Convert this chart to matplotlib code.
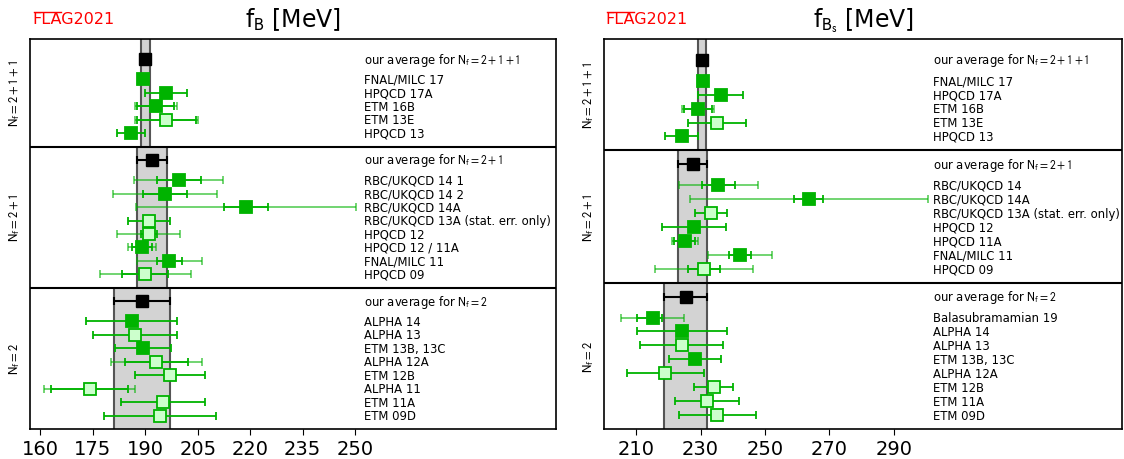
import numpy as np
import matplotlib
matplotlib.use("Agg")
import matplotlib.pyplot as plt
from matplotlib.transforms import blended_transform_factory

plt.rcParams['mathtext.fontset'] = 'stixsans'

GREEN = '#00b300'
LIGHT = '#ccffcc'

# ---- f_B data (labels listed top to bottom inside each block) ----
fb_4_labels = ["FNAL/MILC 17", "HPQCD 17A", "ETM 16B", "ETM 13E", "HPQCD 13"]
fb_4_val = [189.4, 196.0, 193.0, 196.0, 186.0]
fb_4_stat = [None, None, 5.3, 8.4, None]
fb_4_tot = [1.4, 6.0, 6.0, 9.0, 4.0]
fb_4_filled = [True, True, True, False, True]
fb_4_avg = (190.0, 1.3)

fb_3_labels = ["RBC/UKQCD 14 1", "RBC/UKQCD 14 2", "RBC/UKQCD 14A",
               "RBC/UKQCD 13A (stat. err. only)", "HPQCD 12", "HPQCD 12 / 11A",
               "FNAL/MILC 11", "HPQCD 09"]
fb_3_val = [199.5, 195.6, 218.8, 191.0, 191.0, 189.0, 196.9, 190.0]
fb_3_stat = [6.3, 6.3, 6.4, None, 2.2, 2.8, 3.5, 6.6]
fb_3_tot = [12.7, 14.8, 31.4, 6.0, 9.0, 4.0, 9.2, 13.0]
fb_3_filled = [True, True, True, False, False, True, True, False]
fb_3_avg = (192.0, 4.3)

fb_2_labels = ["ALPHA 14", "ALPHA 13", "ETM 13B, 13C", "ALPHA 12A", "ETM 12B",
               "ALPHA 11", "ETM 11A", "ETM 09D"]
fb_2_val = [186.1, 187.0, 189.2, 193.1, 197.1, 174.1, 195.1, 194.1]
fb_2_stat = [None, None, None, 9.0, None, 11.0, None, None]
fb_2_tot = [13.0, 12.1, 8.0, 13.0, 10.0, 13.0, 12.0, 16.0]
fb_2_filled = [True, False, True, False, False, False, False, False]
fb_2_avg = (189.0, 8.0)

# ---- f_Bs data ----
fbs_4_labels = ["FNAL/MILC 17", "HPQCD 17A", "ETM 16B", "ETM 13E", "HPQCD 13"]
fbs_4_val = [230.7, 236.2, 229.2, 235.2, 224.1]
fbs_4_stat = [None, None, 4.4, None, None]
fbs_4_tot = [1.2, 7.0, 5.0, 9.0, 5.0]
fbs_4_filled = [True, True, True, False, True]
fbs_4_avg = (230.5, 1.3)

fbs_3_labels = ["RBC/UKQCD 14", "RBC/UKQCD 14A", "RBC/UKQCD 13A (stat. err. only)",
                "HPQCD 12", "HPQCD 11A", "FNAL/MILC 11", "HPQCD 09"]
fbs_3_val = [235.5, 263.6, 233.2, 228.0, 225.1, 242.2, 231.0]
fbs_3_stat = [5.2, 4.6, None, None, 3.3, 3.4, 5.0]
fbs_3_tot = [12.2, 37.0, 5.0, 10.0, 4.0, 9.9, 15.2]
fbs_3_filled = [True, True, False, True, True, True, False]
fbs_3_avg = (227.6, 4.5)

fbs_2_labels = ["Balasubramamian 19", "ALPHA 14", "ALPHA 13", "ETM 13B, 13C",
                "ALPHA 12A", "ETM 12B", "ETM 11A", "ETM 09D"]
fbs_2_val = [215.1, 224.1, 224.1, 228.2, 219.1, 234.1, 232.0, 235.2]
fbs_2_stat = [(5.0, 3.0), None, None, None, None, None, None, None]
fbs_2_tot = [9.9, 14.0, 13.0, 8.0, 12.0, 6.0, 10.0, 12.0]
fbs_2_filled = [True, True, False, True, False, False, False, False]
fbs_2_avg = (225.4, 6.7)

nf_names = ["2", "2+1", "2+1+1"]
fb_ticks = [160, 175, 190, 205, 220, 235, 250]
fbs_ticks = [210, 230, 250, 270, 290]

LABEL_FS = 8.4


def draw_point(ax, x, y, stat, tot, filled):
    if stat is not None:
        lo, hi = stat if isinstance(stat, tuple) else (stat, stat)
        ax.errorbar([x], [y], xerr=[[tot], [tot]], fmt='none', ecolor=GREEN,
                    alpha=0.6, elinewidth=1.3, capsize=3, capthick=1.3, zorder=3)
        ax.errorbar([x], [y], xerr=[[lo], [hi]], fmt='none', ecolor=GREEN,
                    elinewidth=1.3, capsize=3, capthick=1.3, zorder=4)
    else:
        ax.errorbar([x], [y], xerr=[[tot], [tot]], fmt='none', ecolor=GREEN,
                    elinewidth=1.3, capsize=3, capthick=1.3, zorder=4)
    ax.plot([x], [y], 's', ms=8, mfc=GREEN if filled else LIGHT,
            mec=GREEN, mew=1.3, zorder=5)


def draw_panel(ax, blocks, xlim, ticks):
    tr = blended_transform_factory(ax.transAxes, ax.transData)
    y0 = 0.0
    for k, (labels, vals, stats, tots, filled, avg) in enumerate(blocks):
        n = len(labels)
        ys = y0 + np.arange(n, 0, -1)
        avg_y = y0 + n + 1.5
        top = avg_y + (1.5 if k == len(blocks) - 1 else 1.0)
        m, e = avg
        ax.fill_between([m - e, m + e], y0, top, color='#d3d3d3', zorder=1, lw=0)
        ax.vlines([m - e, m + e], y0, top, color='#555555', lw=1.5, zorder=2)
        ax.errorbar([m], [avg_y], xerr=[[e], [e]], fmt='s', color='black', ms=8,
                    elinewidth=1.5, capsize=3, capthick=1.5, zorder=5)
        ax.text(0.635, avg_y, r'our average for $\mathrm{N_f=%s}$' % nf_names[k],
                transform=tr, va='center', ha='left', fontsize=LABEL_FS)
        for lab, v, s, t, f, y in zip(labels, vals, stats, tots, filled, ys):
            draw_point(ax, v, y, s, t, f)
            ax.text(0.635, y, lab, transform=tr, va='center', ha='left',
                    fontsize=LABEL_FS)
        ax.text(-0.03, (y0 + top) / 2, r'$\mathrm{N_f=%s}$' % nf_names[k],
                transform=tr, rotation=90, va='center', ha='center', fontsize=9)
        if k < len(blocks) - 1:
            ax.axhline(top, color='black', lw=1.5, zorder=6)
        y0 = top
    ax.set_ylim(0, y0)
    ax.set_xlim(*xlim)
    ax.set_xticks(ticks)
    ax.set_yticks([])
    ax.tick_params(axis='x', labelsize=14, length=4)
    for sp in ax.spines.values():
        sp.set_linewidth(1.2)


def flag_logo(fig, x, y):
    # red FLAG2021 mark with a bar over "FLA"
    r = fig.canvas.get_renderer()
    inv = fig.transFigure.inverted()
    tmp = fig.text(x, y, 'FLA', fontsize=11.5, ha='left', va='center')
    bb = tmp.get_window_extent(renderer=r).transformed(inv)
    tmp.remove()
    t = fig.text(x, y, 'FLAG2021', color='red', fontsize=11.5, ha='left', va='center')
    full = t.get_window_extent(renderer=r).transformed(inv)
    ytop = full.y1 - 0.003
    fig.add_artist(plt.Line2D([bb.x0 + 0.001, bb.x1 - 0.001], [ytop, ytop],
                              transform=fig.transFigure, color='red', lw=1.0))


fig = plt.figure(figsize=(11.24, 4.6), dpi=100)
ax1 = fig.add_axes([0.0267, 0.0652, 0.468, 0.848])
ax2 = fig.add_axes([0.5374, 0.0652, 0.4609, 0.848])

draw_panel(ax1, [
    (fb_2_labels, fb_2_val, fb_2_stat, fb_2_tot, fb_2_filled, fb_2_avg),
    (fb_3_labels, fb_3_val, fb_3_stat, fb_3_tot, fb_3_filled, fb_3_avg),
    (fb_4_labels, fb_4_val, fb_4_stat, fb_4_tot, fb_4_filled, fb_4_avg),
], (157.0, 307.5), fb_ticks)

draw_panel(ax2, [
    (fbs_2_labels, fbs_2_val, fbs_2_stat, fbs_2_tot, fbs_2_filled, fbs_2_avg),
    (fbs_3_labels, fbs_3_val, fbs_3_stat, fbs_3_tot, fbs_3_filled, fbs_3_avg),
    (fbs_4_labels, fbs_4_val, fbs_4_stat, fbs_4_tot, fbs_4_filled, fbs_4_avg),
], (200.0, 361.0), fbs_ticks)

ax1.set_title(r'f$_\mathrm{B}$ [MeV]', fontsize=17, pad=9)
ax2.set_title(r'f$_{\mathrm{B_s}}$ [MeV]', fontsize=17, pad=9)
flag_logo(fig, 0.029, 0.958)
flag_logo(fig, 0.539, 0.958)

fig.savefig('out.png', dpi=100)
